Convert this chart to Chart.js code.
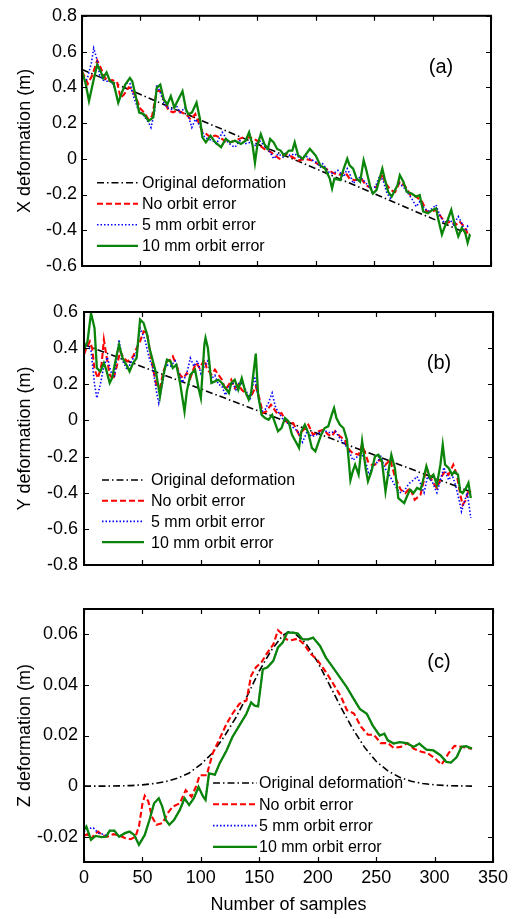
<!DOCTYPE html>
<html><head><meta charset="utf-8">
<script src="https://cdn.jsdelivr.net/npm/chart.js@4.4.1/dist/chart.umd.min.js"></script>
<style>
html,body{margin:0;padding:0;background:#fff;}
#wrap{position:relative;width:516px;height:919px;overflow:hidden;background:#fff;}
canvas{position:absolute;left:0;}
</style></head><body>
<div id="wrap">
<canvas id="ca" width="516" height="295" style="top:0px"></canvas>
<canvas id="cb" width="516" height="295" style="top:295px"></canvas>
<canvas id="cc" width="516" height="329" style="top:590px"></canvas>
</div>
<script>
// ---------- labels ----------
const seriesLabels = ['Original deformation', 'No orbit error', '5 mm orbit error', '10 mm orbit error'];
const yTitles = ['X deformation (m)', 'Y deformation (m)', 'Z deformation (m)'];
const panelTags = ['(a)', '(b)', '(c)'];
const xTitle = 'Number of samples';
const xTicks = [0, 50, 100, 150, 200, 250, 300, 350];
const yTicksA = [-0.6, -0.4, -0.2, 0, 0.2, 0.4, 0.6, 0.8];
const yTicksB = [-0.8, -0.6, -0.4, -0.2, 0, 0.2, 0.4, 0.6];
const yTicksC = [-0.02, 0, 0.02, 0.04, 0.06];

// ---------- panel (a): [sample, value] ----------
const aOrig = [[0,0.50],[100,0.22],[200,-0.055],[332,-0.425]];
const aNo = [[0,0.49],[3,0.45],[5,0.42],[9,0.47],[13,0.55],[16,0.51],[19,0.46],[22,0.435],[26,0.44],[30,0.43],[33,0.34],[36,0.36],[40,0.40],[43,0.39],[47,0.33],[50,0.28],[53,0.26],[57,0.22],[60,0.24],[64,0.38],[67,0.38],[70,0.33],[74,0.27],[78,0.26],[81,0.27],[85,0.26],[89,0.25],[93,0.22],[97,0.25],[100,0.2],[103,0.15],[106,0.14],[110,0.12],[114,0.13],[118,0.12],[122,0.10],[126,0.09],[130,0.10],[134,0.11],[138,0.12],[142,0.12],[146,0.115],[150,0.10],[153,0.07],[157,0.05],[161,0.04],[165,0.02],[169,0.0],[174,0.028],[180,0.01],[185,-0.01],[191,0.0],[197,-0.01],[202,-0.03],[206,-0.046],[211,-0.065],[216,-0.083],[221,-0.09],[225,-0.074],[229,-0.111],[233,-0.12],[239,-0.111],[243,-0.148],[248,-0.166],[252,-0.157],[257,-0.083],[259,-0.129],[264,-0.175],[268,-0.185],[272,-0.129],[277,-0.157],[281,-0.203],[286,-0.212],[291,-0.24],[295,-0.295],[299,-0.295],[303,-0.286],[308,-0.332],[312,-0.36],[316,-0.35],[320,-0.369],[323,-0.35],[328,-0.387],[330,-0.42],[331,-0.425]];
const a5mm = [[0,0.452],[3,0.43],[5,0.461],[8,0.535],[10,0.618],[13,0.553],[15,0.47],[18,0.44],[21,0.434],[25,0.434],[28,0.397],[31,0.314],[34,0.37],[38,0.424],[41,0.424],[44,0.35],[48,0.277],[52,0.249],[57,0.203],[59,0.175],[62,0.258],[64,0.415],[67,0.37],[70,0.314],[73,0.286],[77,0.277],[81,0.295],[84,0.258],[88,0.286],[91,0.24],[94,0.175],[97,0.221],[101,0.185],[105,0.12],[108,0.111],[112,0.101],[115,0.083],[120,0.148],[122,0.129],[125,0.092],[128,0.074],[131,0.065],[135,0.101],[139,0.083],[144,0.092],[148,0.074],[152,0.101],[157,0.065],[161,0.037],[164,0.0],[168,0.028],[172,0.01],[174,0.037],[178,0.018],[182,0.028],[187,0.0],[191,0.018],[195,0.0],[200,-0.018],[204,-0.046],[206,-0.028],[211,-0.074],[215,-0.083],[219,-0.065],[224,-0.101],[227,-0.055],[229,-0.083],[232,-0.138],[235,-0.12],[238,-0.101],[242,-0.129],[247,-0.166],[251,-0.157],[255,-0.092],[258,-0.129],[261,-0.194],[264,-0.221],[266,-0.194],[271,-0.138],[275,-0.157],[278,-0.185],[282,-0.221],[286,-0.268],[289,-0.24],[293,-0.277],[296,-0.295],[300,-0.277],[303,-0.258],[306,-0.314],[310,-0.36],[315,-0.341],[318,-0.369],[322,-0.323],[325,-0.36],[328,-0.415],[330,-0.378],[331,-0.387]];
const a10mm = [[0,0.489],[3,0.424],[6,0.323],[10,0.443],[13,0.526],[16,0.489],[18,0.452],[21,0.483],[24,0.434],[27,0.424],[31,0.314],[34,0.369],[37,0.415],[41,0.452],[43,0.434],[46,0.35],[49,0.258],[53,0.249],[57,0.212],[61,0.231],[64,0.397],[67,0.415],[70,0.332],[73,0.304],[76,0.35],[79,0.286],[81,0.314],[86,0.378],[89,0.277],[91,0.249],[94,0.258],[98,0.314],[101,0.221],[103,0.12],[106,0.092],[110,0.129],[114,0.092],[119,0.065],[123,0.111],[127,0.092],[131,0.101],[136,0.083],[140,0.101],[143,0.148],[146,0.074],[148,-0.022],[150,0.074],[153,0.138],[156,0.083],[159,0.055],[161,0.111],[164,0.092],[167,0.055],[170,0.046],[173,0.018],[177,0.046],[180,0.046],[182,0.092],[185,0.018],[189,0.0],[192,0.028],[195,0.055],[200,0.018],[204,-0.037],[208,-0.055],[212,-0.111],[214,-0.166],[216,-0.111],[221,-0.12],[224,-0.055],[227,0.0],[229,-0.037],[232,-0.055],[235,-0.111],[238,-0.129],[241,-0.009],[243,-0.055],[247,-0.166],[249,-0.194],[252,-0.175],[257,-0.055],[259,-0.111],[262,-0.185],[265,-0.212],[270,-0.148],[272,-0.092],[275,-0.129],[278,-0.185],[282,-0.194],[286,-0.212],[289,-0.203],[292,-0.295],[296,-0.304],[300,-0.286],[303,-0.277],[305,-0.341],[308,-0.424],[310,-0.387],[313,-0.341],[316,-0.286],[319,-0.369],[322,-0.434],[325,-0.387],[328,-0.415],[330,-0.47],[332,-0.424]];

// ---------- panel (b) ----------
const bOrig = [[0,0.42],[150,0.051],[331,-0.395]];
const bNo = [[0,0.364],[2,0.4],[5,0.437],[7,0.4],[9,0.281],[12,0.234],[15,0.308],[17,0.447],[19,0.364],[22,0.253],[25,0.225],[28,0.299],[31,0.382],[34,0.345],[37,0.327],[39,0.336],[42,0.354],[45,0.4],[48,0.437],[51,0.493],[54,0.484],[56,0.401],[59,0.29],[62,0.197],[65,0.179],[68,0.271],[71,0.327],[74,0.336],[76,0.354],[79,0.308],[82,0.253],[85,0.234],[88,0.262],[91,0.234],[94,0.29],[96,0.318],[99,0.29],[103,0.336],[105,0.29],[109,0.253],[112,0.281],[115,0.253],[118,0.225],[121,0.17],[124,0.198],[126,0.225],[129,0.179],[132,0.198],[135,0.17],[138,0.152],[141,0.124],[143,0.133],[147,0.189],[150,0.124],[153,0.041],[156,0.05],[160,0.087],[163,0.06],[166,0.032],[169,0.041],[173,-0.005],[175,-0.015],[179,-0.015],[184,-0.079],[188,-0.051],[192,-0.024],[196,-0.079],[201,-0.06],[205,-0.051],[209,-0.079],[212,-0.088],[215,-0.06],[219,-0.088],[223,-0.107],[227,-0.162],[230,-0.181],[235,-0.19],[238,-0.134],[241,-0.19],[243,-0.227],[246,-0.245],[249,-0.245],[253,-0.217],[258,-0.245],[262,-0.217],[266,-0.31],[271,-0.383],[275,-0.402],[279,-0.374],[283,-0.439],[288,-0.411],[290,-0.356],[293,-0.263],[298,-0.337],[302,-0.374],[306,-0.31],[309,-0.282],[312,-0.3],[316,-0.245],[319,-0.3],[322,-0.411],[324,-0.467],[327,-0.439],[329,-0.383],[331,-0.4]];
const b5mm = [[0,0.43],[3,0.41],[6,0.39],[9,0.2],[11,0.124],[14,0.2],[17,0.3],[20,0.35],[23,0.27],[26,0.24],[30,0.447],[33,0.33],[37,0.28],[41,0.33],[45,0.38],[48,0.51],[52,0.45],[56,0.34],[59,0.29],[62,0.16],[64,0.096],[67,0.2],[70,0.31],[74,0.3],[78,0.33],[81,0.27],[84,0.21],[88,0.26],[91,0.345],[94,0.3],[97,0.33],[100,0.26],[103,0.3],[106,0.33],[109,0.23],[112,0.25],[115,0.2],[118,0.19],[121,0.14],[124,0.19],[127,0.21],[130,0.17],[133,0.21],[136,0.2],[139,0.16],[142,0.11],[146,0.244],[149,0.13],[152,0.05],[155,0.06],[158,0.1],[161,0.152],[164,0.07],[167,0.04],[170,0.01],[175,-0.02],[179,-0.04],[183,-0.06],[187,-0.12],[191,-0.06],[195,-0.09],[199,-0.08],[203,-0.06],[207,-0.06],[211,-0.07],[215,-0.06],[219,-0.1],[223,-0.13],[227,-0.17],[230,-0.22],[234,-0.2],[238,-0.19],[241,-0.23],[244,-0.3],[247,-0.25],[250,-0.24],[254,-0.2],[258,-0.27],[262,-0.31],[266,-0.36],[270,-0.4],[274,-0.39],[278,-0.35],[282,-0.33],[285,-0.31],[288,-0.35],[291,-0.4],[294,-0.31],[298,-0.34],[302,-0.4],[305,-0.33],[308,-0.26],[312,-0.33],[315,-0.3],[318,-0.36],[321,-0.44],[323,-0.504],[326,-0.44],[328,-0.4],[331,-0.54]];
const b10mm = [[0,0.391],[3,0.437],[6,0.594],[9,0.511],[11,0.29],[14,0.271],[17,0.318],[19,0.281],[22,0.207],[24,0.234],[28,0.364],[30,0.419],[33,0.345],[37,0.299],[39,0.271],[42,0.318],[45,0.345],[48,0.558],[51,0.539],[54,0.475],[56,0.401],[59,0.327],[62,0.253],[65,0.133],[68,0.253],[71,0.336],[74,0.327],[76,0.29],[79,0.308],[82,0.216],[86,0.05],[88,0.161],[91,0.253],[95,0.281],[98,0.179],[100,0.124],[103,0.419],[104,0.456],[106,0.401],[109,0.207],[112,0.216],[115,0.225],[118,0.207],[121,0.179],[124,0.152],[126,0.207],[129,0.225],[132,0.17],[135,0.234],[138,0.161],[141,0.115],[143,0.152],[147,0.37],[149,0.142],[152,0.031],[155,0.013],[158,0.004],[161,0.031],[163,-0.005],[166,-0.06],[169,-0.042],[172,0.013],[175,-0.005],[178,-0.079],[181,-0.115],[184,-0.152],[186,-0.06],[189,-0.024],[192,-0.07],[195,-0.152],[198,-0.171],[201,-0.115],[203,-0.079],[206,-0.042],[209,-0.033],[212,0.032],[214,0.068],[216,0.013],[219,-0.024],[222,-0.042],[225,-0.107],[228,-0.33],[230,-0.282],[232,-0.245],[235,-0.3],[238,-0.115],[241,-0.263],[243,-0.337],[246,-0.282],[249,-0.199],[252,-0.19],[255,-0.227],[258,-0.393],[261,-0.263],[263,-0.19],[266,-0.263],[269,-0.43],[274,-0.457],[277,-0.411],[279,-0.383],[282,-0.402],[285,-0.374],[288,-0.383],[290,-0.337],[293,-0.254],[296,-0.319],[299,-0.3],[302,-0.356],[305,-0.245],[307,-0.135],[309,-0.245],[312,-0.263],[315,-0.3],[317,-0.282],[320,-0.3],[322,-0.393],[324,-0.402],[327,-0.374],[329,-0.346],[331,-0.43]];

// ---------- panel (c) ----------
const cOrig = [[0,0],[10,0],[20,0],[30,0.0001],[40,0.0002],[50,0.0005],[60,0.001],[70,0.0018],[80,0.0031],[90,0.0052],[100,0.0086],[110,0.0131],[120,0.0196],[130,0.0271],[140,0.036],[150,0.0455],[160,0.0535],[170,0.0595],[175,0.061],[180,0.0605],[190,0.0563],[200,0.049],[210,0.0401],[220,0.031],[230,0.0226],[240,0.0154],[250,0.0098],[260,0.006],[270,0.0035],[280,0.0019],[290,0.001],[300,0.0005],[310,0.0002],[320,0.0001],[332,0]];
const cNo = [[0,-0.0196],[3,-0.019],[6,-0.021],[9,-0.019],[12,-0.018],[16,-0.0195],[20,-0.02],[25,-0.019],[30,-0.0195],[35,-0.0205],[40,-0.021],[44,-0.02],[47,-0.016],[50,-0.007],[52,-0.0038],[55,-0.006],[58,-0.012],[62,-0.0153],[67,-0.0147],[72,-0.0105],[76,-0.0081],[82,-0.0068],[87,-0.0016],[92,-0.0042],[96,0.0],[99,0.0043],[105,0.0043],[110,0.0128],[116,0.0187],[122,0.0246],[127,0.0286],[133,0.0325],[139,0.0338],[143,0.0436],[147,0.0469],[152,0.049],[156,0.0521],[162,0.056],[166,0.0616],[170,0.06],[173,0.058],[177,0.0576],[183,0.0583],[188,0.0562],[194,0.0523],[200,0.0497],[208,0.0444],[214,0.0399],[220,0.0353],[225,0.03],[231,0.0287],[237,0.0235],[243,0.0203],[248,0.0203],[254,0.017],[260,0.017],[265,0.0151],[271,0.0155],[277,0.017],[282,0.0148],[288,0.0137],[294,0.013],[300,0.0111],[306,0.0085],[312,0.013],[317,0.0159],[323,0.0155],[329,0.015],[332,0.0148]];
const c5mm = [[0,-0.018],[3,-0.0168],[8,-0.0165],[12,-0.0185],[16,-0.019],[19,-0.0195],[22,-0.0176],[26,-0.0178],[30,-0.0198],[35,-0.0186],[39,-0.018],[43,-0.0193],[47,-0.0228],[52,-0.0193],[56,-0.0134],[60,-0.0068],[64,-0.0048],[67,-0.0081],[70,-0.0134],[73,-0.0153],[77,-0.0134],[82,-0.0094],[86,-0.0052],[90,-0.0072],[94,-0.0048],[98,-0.0008],[102,-0.0042],[104,-0.0055],[107,0.005],[112,0.0045],[116,0.0089],[122,0.0141],[127,0.0194],[133,0.024],[139,0.0286],[143,0.0331],[146,0.0318],[149,0.0315],[153,0.0462],[157,0.047],[162,0.0495],[166,0.0548],[170,0.0567],[174,0.0607],[179,0.0607],[183,0.0603],[187,0.058],[192,0.058],[196,0.0587],[202,0.0554],[207,0.0508],[213,0.0469],[219,0.043],[225,0.039],[230,0.0351],[236,0.0305],[242,0.0286],[247,0.024],[253,0.02],[257,0.0207],[260,0.0181],[265,0.0168],[270,0.0174],[276,0.017],[282,0.0155],[287,0.0168],[293,0.0144],[299,0.0141],[305,0.0122],[310,0.0096],[314,0.0093],[319,0.0115],[323,0.0155],[327,0.0158],[332,0.0148]];
const c10mm = [[0,-0.0173],[2,-0.016],[6,-0.0212],[10,-0.0197],[15,-0.0202],[19,-0.02],[22,-0.0176],[26,-0.0176],[30,-0.02],[35,-0.0186],[39,-0.018],[43,-0.0193],[47,-0.0232],[52,-0.0193],[56,-0.0134],[60,-0.0068],[64,-0.0048],[67,-0.0081],[70,-0.0134],[73,-0.0153],[77,-0.0134],[82,-0.0094],[86,-0.0048],[90,-0.0075],[94,-0.0048],[98,-0.0003],[102,-0.0042],[104,-0.0055],[107,0.005],[112,0.0045],[116,0.0089],[122,0.0141],[127,0.0194],[133,0.024],[139,0.0286],[143,0.0331],[146,0.0318],[149,0.0315],[153,0.0462],[157,0.047],[162,0.0495],[166,0.0548],[170,0.0567],[174,0.0607],[179,0.0607],[183,0.0603],[187,0.058],[192,0.058],[196,0.0587],[202,0.0554],[207,0.0508],[213,0.0469],[219,0.043],[225,0.039],[230,0.0351],[236,0.0305],[242,0.0286],[247,0.024],[253,0.02],[257,0.0207],[260,0.0181],[265,0.0168],[270,0.0174],[276,0.017],[282,0.0155],[287,0.0168],[293,0.0144],[299,0.0141],[305,0.0122],[310,0.0096],[314,0.0093],[319,0.0115],[323,0.0155],[327,0.0158],[332,0.0148]];

// ---------- styling ----------
const FONT = "'Liberation Sans', Arial, Helvetica, sans-serif";
const styles = [
  {color:'#000000', dash:[7,3,1.5,3], width:1.6, order:3},
  {color:'#ff0000', dash:[6,3], width:2.1, order:2},
  {color:'#0000ff', dash:[1.5,2], width:1.6, order:1},
  {color:'#0a850a', dash:[], width:2.3, order:0}
];

function toPts(arr){ return arr.map(p => ({x:p[0], y:p[1]})); }
function fmt(v){ return String(Math.round(v*1000)/1000); }

function framePlugin(cfg){
  return {
    id:'frame'+cfg.tag,
    afterDatasetsDraw(chart){
      const ctx = chart.ctx, a = chart.chartArea;
      const xs = chart.scales.x, ys = chart.scales.y;
      ctx.save();
      ctx.strokeStyle = '#000'; ctx.lineWidth = 1.2; ctx.setLineDash([]);
      const tl = 5;
      ctx.beginPath();
      xTicks.forEach(v => { const p = Math.round(xs.getPixelForValue(v))+0.5;
        ctx.moveTo(p, a.bottom); ctx.lineTo(p, a.bottom - tl);
        ctx.moveTo(p, a.top); ctx.lineTo(p, a.top + tl); });
      cfg.yTicks.forEach(v => { const p = Math.round(ys.getPixelForValue(v))+0.5;
        ctx.moveTo(a.left, p); ctx.lineTo(a.left + tl, p);
        ctx.moveTo(a.right, p); ctx.lineTo(a.right - tl, p); });
      ctx.stroke();
      ctx.lineWidth = 2;
      ctx.strokeRect(a.left, a.top, a.right - a.left, a.bottom - a.top);
      // legend
      ctx.font = '16px ' + FONT; ctx.textBaseline = 'middle'; ctx.textAlign = 'left'; ctx.fillStyle = '#000';
      const L = cfg.legend;
      seriesLabels.forEach((lab, i) => {
        const y = a.top + L.top + i * L.step;
        const st = styles[i];
        ctx.beginPath(); ctx.strokeStyle = st.color; ctx.lineWidth = st.width; ctx.setLineDash(st.dash);
        ctx.moveTo(a.left + L.x0, y); ctx.lineTo(a.left + L.x1, y); ctx.stroke();
        ctx.setLineDash([]);
        ctx.fillText(lab, a.left + L.tx, y + 1);
      });
      // panel tag
      ctx.font = '20px ' + FONT; ctx.textAlign = 'center';
      ctx.fillText(cfg.tag, a.left + cfg.tagPos[0], a.top + cfg.tagPos[1]);
      ctx.restore();
    }
  };
}

function makeChart(id, cfg){
  const datasets = cfg.series.map((s, i) => ({
    label: seriesLabels[i], data: toPts(s),
    borderColor: styles[i].color, borderDash: styles[i].dash, borderWidth: styles[i].width,
    order: styles[i].order, pointRadius: 0, fill: false, tension: 0
  }));
  return new Chart(document.getElementById(id), {
    type: 'line',
    data: { datasets },
    options: {
      responsive: false, animation: false, events: [],
      layout: { padding: { left: 0, right: cfg.padR, top: cfg.padT, bottom: 0 } },
      plugins: { legend: { display: false }, tooltip: { enabled: false } },
      scales: {
        x: {
          type: 'linear', min: 0, max: 350,
          grid: { display: false, drawTicks: false }, border: { display: false },
          ticks: { display: cfg.showX, padding: 5, color: '#000', font: { family: FONT, size: 18 }, maxRotation: 0, callback: v => String(v) },
          afterBuildTicks: s => { s.ticks = xTicks.map(v => ({ value: v })); },
          afterFit: s => { s.height = cfg.xH; },
          title: { display: cfg.showX, text: xTitle, color: '#000', font: { family: FONT, size: 18 }, padding: { top: 0, bottom: 3 } }
        },
        y: {
          type: 'linear', min: cfg.yMin, max: cfg.yMax,
          grid: { display: false, drawTicks: false }, border: { display: false },
          ticks: { padding: cfg.yPad, color: '#000', font: { family: FONT, size: 18 }, callback: v => fmt(v) },
          afterBuildTicks: s => { s.ticks = cfg.yTicks.map(v => ({ value: v })); },
          afterFit: s => { s.width = cfg.yW; },
          title: { display: true, text: cfg.yTitle, color: '#000', font: { family: FONT, size: 18 }, padding: { top: 14, bottom: 0 } }
        }
      }
    },
    plugins: [framePlugin(cfg)]
  });
}

makeChart('ca', {
  series: [aOrig, aNo, a5mm, a10mm], yMin: -0.6, yMax: 0.8, yTicks: yTicksA, yTitle: yTitles[0], tag: panelTags[0],
  padT: 13, padR: 25, xH: 29, yW: 82, yPad: 5, showX: false,
  legend: { x0: 15, x1: 56, tx: 60, top: 167, step: 21 }, tagPos: [359, 52]
});
makeChart('cb', {
  series: [bOrig, bNo, b5mm, b10mm], yMin: -0.8, yMax: 0.6, yTicks: yTicksB, yTitle: yTitles[1], tag: panelTags[1],
  padT: 17, padR: 23, xH: 25, yW: 84, yPad: 6, showX: false,
  legend: { x0: 18, x1: 60, tx: 67, top: 168, step: 20.7 }, tagPos: [355, 51]
});
makeChart('cc', {
  series: [cOrig, cNo, c5mm, c10mm], yMin: -0.03, yMax: 0.07, yTicks: yTicksC, yTitle: yTitles[2], tag: panelTags[2],
  padT: 19, padR: 23, xH: 57, yW: 84, yPad: 6, showX: true,
  legend: { x0: 129, x1: 173, tx: 175, top: 174, step: 21.3 }, tagPos: [355, 53]
});
</script>
</body></html>
